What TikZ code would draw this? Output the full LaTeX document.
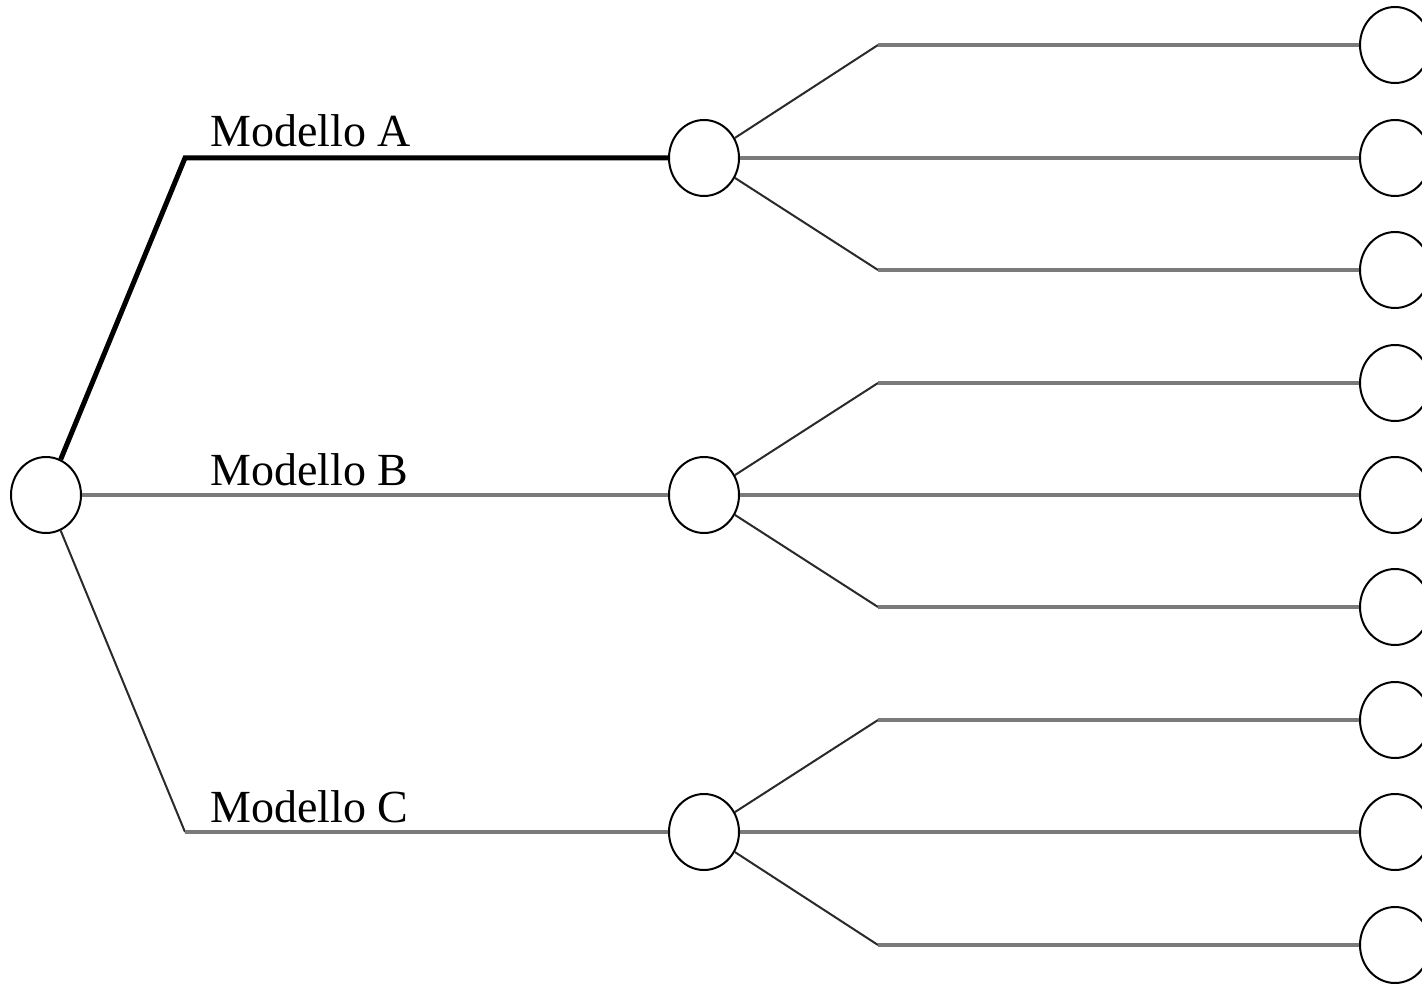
\documentclass[tikz,border=0pt]{standalone}
\usepackage{fontspec}
\usetikzlibrary{shapes.geometric}
\setmainfont{Liberation Serif}
\definecolor{hgray}{HTML}{7A7A7A}
\definecolor{dgray}{HTML}{2A2A2A}
\begin{document}
\begin{tikzpicture}[x=1pt,y=-1pt,
  nodec/.style={ellipse,draw=black,line width=2pt,minimum width=70pt,minimum height=76pt,inner sep=0pt,fill=white},
  hline/.style={draw=hgray,line width=4pt},
  dline/.style={draw=dgray,line width=2pt},
  boldline/.style={draw=black,line width=5pt,line join=miter},
  lbl/.style={anchor=base west,inner sep=0pt,font=\fontsize{46}{54}\selectfont}]
\useasboundingbox (0,0) rectangle (1422,984);
\clip (0,0) rectangle (1422,984);
% nodes
\node[nodec] (root) at (46,495) {};
\node[nodec] (mA) at (704,158) {};
\node[nodec] (mB) at (704,495) {};
\node[nodec] (mC) at (704,832) {};
\foreach \i/\y in {1/45,2/158,3/270,4/383,5/495,6/607,7/720,8/832,9/945}
  \node[nodec] (l\i) at (1395,\y) {};
% knee coordinates
\coordinate (kA) at (185,158);
\coordinate (kC) at (185,832);
\coordinate (kA1) at (878,45);
\coordinate (kA3) at (878,270);
\coordinate (kB1) at (878,383);
\coordinate (kB3) at (878,607);
\coordinate (kC1) at (878,720);
\coordinate (kC3) at (878,945);
% first level
\draw[boldline] (root) -- (kA) -- (mA.west);
\draw[hline] (root) -- (mB);
\draw[dline] (root) -- (kC);
\draw[hline] (kC) -- (mC.west);
% second level
\draw[dline] (mA) -- (kA1); \draw[hline] (kA1) -- (l1.west);
\draw[hline] (mA) -- (l2);
\draw[dline] (mA) -- (kA3); \draw[hline] (kA3) -- (l3.west);
\draw[dline] (mB) -- (kB1); \draw[hline] (kB1) -- (l4.west);
\draw[hline] (mB) -- (l5);
\draw[dline] (mB) -- (kB3); \draw[hline] (kB3) -- (l6.west);
\draw[dline] (mC) -- (kC1); \draw[hline] (kC1) -- (l7.west);
\draw[hline] (mC) -- (l8);
\draw[dline] (mC) -- (kC3); \draw[hline] (kC3) -- (l9.west);
% labels
\node[lbl] (tA) at (210,147) {Modello A};
\node[lbl] (tB) at (210,485) {Modello B};
\node[lbl] (tC) at (210,822) {Modello C};
\end{tikzpicture}
\end{document}
